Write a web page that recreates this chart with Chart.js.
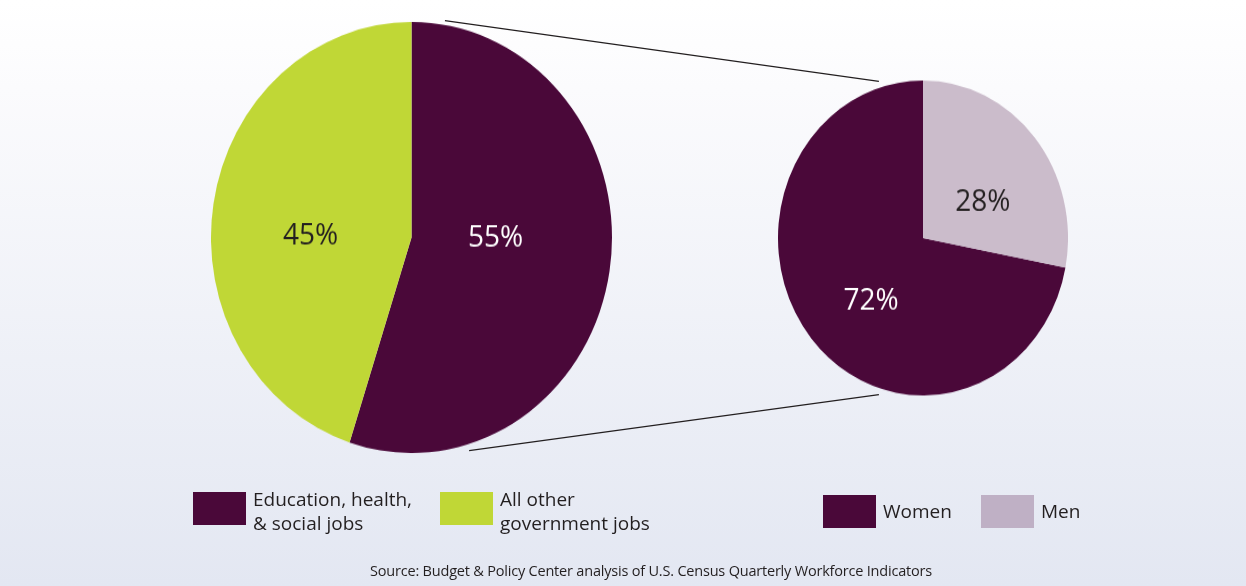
<!DOCTYPE html>
<html>
<head>
<meta charset="utf-8">
<script src="https://cdn.jsdelivr.net/npm/chart.js@4.4.1/dist/chart.umd.min.js"></script>
<style>
  html, body { margin: 0; padding: 0; }
  body {
    width: 1246px; height: 586px; position: relative; overflow: hidden;
    background: linear-gradient(to bottom, #ffffff 0%, #fbfbfd 15%, #e3e7f2 100%);
    font-family: 'Open Sans', 'Noto Sans', sans-serif; color: #231f20;
  }
  .pie { position: absolute; transform-origin: 50% 50%; }
  #leftPie { left: 211px; top: 37px; width: 401px; height: 401px; transform: scaleY(1.075); }
  #rightPie { left: 778px; top: 92.5px; width: 290px; height: 290px; transform: scaleY(1.086); }
  #lines { position: absolute; left: 0; top: 0; pointer-events: none; }
  .legend { position: absolute; display: flex; align-items: flex-start; font-size: 19px; line-height: 24px; }
  .item { display: flex; align-items: flex-start; }
  .swatch { width: 53px; height: 33px; margin-right: 7px; }
  #legendLeft { left: 193px; top: 492px; }
  #legendLeft .item:first-child { width: 247px; }
  #legendLeft .txt { margin-top: -5px; }
  #legendRight { left: 823px; top: 495px; }
  #legendRight .item:first-child { width: 158px; }
  #legendRight .txt { margin-top: 4px; }
  #source { position: absolute; left: 0; width: 1302px; top: 561px; text-align: center; font-size: 14.5px; letter-spacing: -0.2px; }
</style>
</head>
<body>
<div class="pie" id="leftPie"><canvas id="jobsChart" width="401" height="401"></canvas></div>
<div class="pie" id="rightPie"><canvas id="genderChart" width="290" height="290"></canvas></div>
<canvas id="lines" width="1246" height="586"></canvas>
<div class="legend" id="legendLeft"></div>
<div class="legend" id="legendRight"></div>
<div id="source">Source: Budget &amp; Policy Center analysis of U.S. Census Quarterly Workforce Indicators</div>
<script>
const jobLabels = ['Education, health,\n& social jobs', 'All other\ngovernment jobs'];
const jobShares = [55, 45];
const genderLabels = ['Women', 'Men'];
const genderShares = [72, 28];

const purple = '#4a0839';
const jobColors = [purple, '#c0d736'];
const genderColors = [purple, '#cbbccb'];
const genderLegendColors = [purple, '#bfb0c5'];
const labelColors = { '#4a0839': '#ffffff' };

// percentage text inside each slice, placed around the slice middle
const pctLabels = {
  id: 'pctLabels',
  afterDatasetsDraw(chart, args, opts) {
    const ctx = chart.ctx;
    const meta = chart.getDatasetMeta(0);
    const data = chart.data.datasets[0].data;
    ctx.save();
    ctx.font = '400 28px "Open Sans", sans-serif';
    ctx.textAlign = 'center';
    ctx.textBaseline = 'middle';
    meta.data.forEach((arc, i) => {
      const p = arc.getProps(['x', 'y', 'startAngle', 'endAngle', 'outerRadius']);
      const mid = (p.startAngle + p.endAngle) / 2;
      const r = p.outerRadius * opts.frac;
      const nudge = opts.nudge[i] || [0, 0];
      const col = chart.data.datasets[0].backgroundColor[i];
      ctx.fillStyle = labelColors[col] || '#231f20';
      ctx.fillText(data[i] + '%', p.x + Math.cos(mid) * r + nudge[0], p.y + Math.sin(mid) * r + nudge[1]);
    });
    ctx.restore();
  }
};

function pieOptions(rotation, nudge) {
  return {
    responsive: false,
    animation: false,
    rotation: rotation,
    layout: { padding: 0 },
    plugins: { legend: { display: false }, tooltip: { enabled: false }, pctLabels: { frac: 0.5, nudge: nudge } }
  };
}

const jobsChart = new Chart(document.getElementById('jobsChart'), {
  type: 'pie',
  data: { labels: jobLabels, datasets: [{ data: jobShares, backgroundColor: jobColors, borderWidth: 0 }] },
  options: pieOptions(0, [[-15, -15], [-2, 14]]),
  plugins: [pctLabels]
});

// women slice starts where the men slice ends (men from 12 o'clock clockwise)
const menAngle = genderShares[1] / (genderShares[0] + genderShares[1]) * 360;
const genderChart = new Chart(document.getElementById('genderChart'), {
  type: 'pie',
  data: { labels: genderLabels, datasets: [{ data: genderShares, backgroundColor: genderColors, borderWidth: 0 }] },
  options: pieOptions(menAngle, [[4, 12], [4, 13]]),
  plugins: [pctLabels]
});

function buildLegend(el, labels, colors) {
  labels.forEach((lab, i) => {
    const item = document.createElement('div');
    item.className = 'item';
    item.innerHTML = '<div class="swatch" style="background:' + colors[i] + '"></div>' +
      '<div class="txt">' + lab.replace('&', '&amp;').replace('\n', '<br>') + '</div>';
    el.appendChild(item);
  });
}
buildLegend(document.getElementById('legendLeft'), jobLabels, jobColors);
buildLegend(document.getElementById('legendRight'), genderLabels, genderLegendColors);

// connector lines between the two pies
function piePoint(chart, wrapId, scaleY, deg, k) {
  const arc = chart.getDatasetMeta(0).data[0];
  const box = document.getElementById(wrapId);
  const left = box.offsetLeft, top = box.offsetTop, h = box.offsetHeight;
  const a = deg * Math.PI / 180;
  const r = arc.outerRadius * k;
  const x = left + arc.x + Math.sin(a) * r;
  const y = top + h / 2 + (arc.y - Math.cos(a) * r - h / 2) * scaleY;
  return [x, y];
}
const lc = document.getElementById('lines').getContext('2d');
lc.strokeStyle = '#231f20';
lc.lineWidth = 1.2;
[[9.4, 1.02, -17, 1.04], [163.8, 1.03, 197, 1.04]].forEach(s => {
  const a = piePoint(jobsChart, 'leftPie', 1.075, s[0], s[1]);
  const b = piePoint(genderChart, 'rightPie', 1.086, s[2], s[3]);
  lc.beginPath();
  lc.moveTo(a[0], a[1]);
  lc.lineTo(b[0], b[1]);
  lc.stroke();
});
</script>
</body>
</html>
